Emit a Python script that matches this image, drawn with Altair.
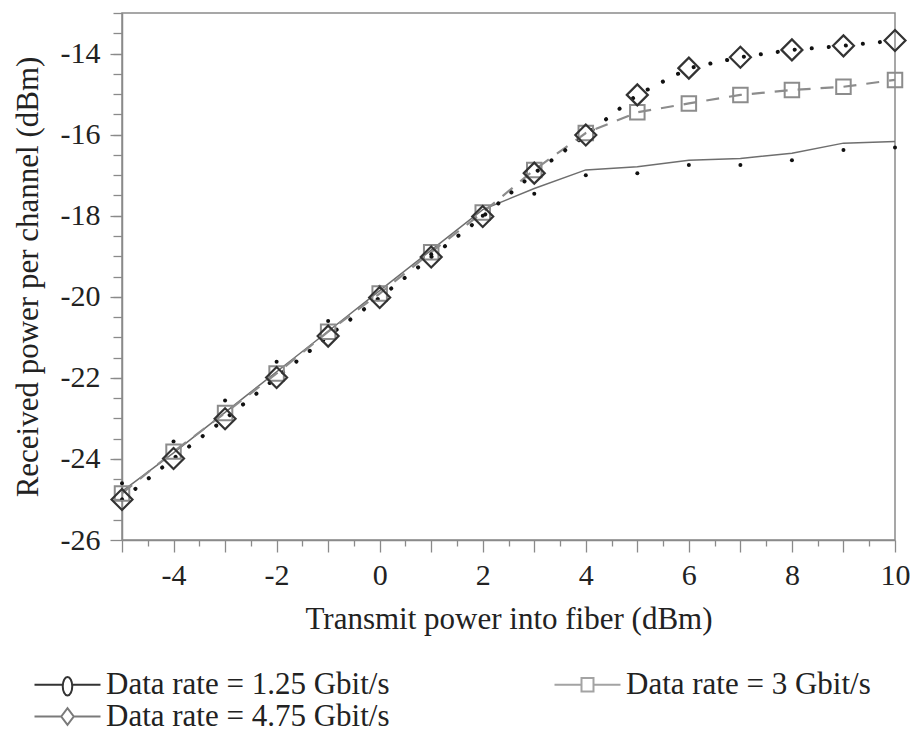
import altair as alt
import pandas as pd

# ---- data ----
x_vals = [-5, -4, -3, -2, -1, 0, 1, 2, 3, 4, 5, 6, 7, 8, 9, 10]
rate_475 = [-25.0, -23.99, -23.01, -21.99, -20.97, -20.02, -19.02, -18.02,
            -16.95, -16.01, -15.02, -14.36, -14.09, -13.91, -13.81, -13.68]
rate_3 = [-24.85, -23.82, -22.87, -21.89, -20.86, -19.92, -18.9, -17.92,
          -16.87, -15.96, -15.45, -15.23, -15.02, -14.9, -14.82, -14.65]
rate_125_line = [-24.8, -23.85, -22.85, -21.85, -20.85, -19.85, -18.85, -17.85,
                 -17.33, -16.87, -16.79, -16.63, -16.59, -16.46, -16.21, -16.17]
rate_125_dots = [-24.6, -23.57, -22.56, -21.6, -20.6, -19.75, -18.95, -18.0,
                 -17.46, -17.0, -16.95, -16.75, -16.75, -16.63, -16.38, -16.32]

series_names = ["Data rate = 1.25 Gbit/s", "Data rate = 3 Gbit/s", "Data rate = 4.75 Gbit/s"]
series_colors = ["#333333", "#a3a3a3", "#7a7a7a"]
legend_paths = [
    "M-2.64,0L-0.38,0M0.38,0L2.64,0M-0.38,0.12A0.38,0.74 0 1,0 0.38,0.12A0.38,0.74 0 1,0 -0.38,0.12",
    "M-2.64,0L-0.48,0M0.48,0L2.64,0M-0.48,-0.54L0.48,-0.54L0.48,0.54L-0.48,0.54Z",
    "M-2.64,0L-0.5,0M0.5,0L2.64,0M-0.5,0L0,-0.66L0.5,0L0,0.66Z",
]

x_major = list(range(-5, 11))
x_minor = [v + 0.5 for v in range(-5, 10)]
y_major = list(range(-26, -13, 2))
y_minor = [-26 + 0.5 * i for i in range(1, 27)]

df = pd.DataFrame({
    "x": x_vals,
    "r475": rate_475,
    "r3": rate_3,
    "r125": rate_125_line,
    "r125d": rate_125_dots,
})
leg_df = pd.DataFrame({"series": series_names})

FONT = "Liberation Serif"
xs = alt.Scale(domain=[-5, 10], nice=False, zero=False)
ys = alt.Scale(domain=[-26, -13], nice=False, zero=False)

x_axis_major = alt.Axis(values=x_major, tickSize=12,
                        labelExpr="datum.value % 2 == 0 ? '' + datum.value : ''",
                        title="Transmit power into fiber (dBm)", labelPadding=8,
                        titlePadding=14, orient="bottom", labelFlush=False,
                        labelOverlap=False)
x_axis_minor = alt.Axis(values=x_minor, tickSize=6, labels=False, domain=False,
                        title=None, orient="bottom")
y_axis_major = alt.Axis(values=y_major, tickSize=12,
                        labelExpr="'' + datum.value",
                        title="Received power per channel (dBm)", labelPadding=10,
                        titlePadding=16, orient="left", labelOverlap=False)
y_axis_minor = alt.Axis(values=y_minor, tickSize=9, labels=False, domain=False,
                        title=None, orient="left")

base = alt.Chart(df)

line125 = base.mark_line(color="#6e6e6e", strokeWidth=1.5).encode(
    x=alt.X("x:Q", scale=xs, axis=x_axis_major),
    y=alt.Y("r125:Q", scale=ys, axis=y_axis_major),
)
line3 = base.mark_line(color="#8c8c8c", strokeWidth=2.2, strokeDash=[13, 10]).encode(
    x=alt.X("x:Q", scale=xs, axis=x_axis_minor),
    y=alt.Y("r3:Q", scale=ys, axis=y_axis_minor),
)
line475 = base.mark_line(color="#111111", strokeWidth=4, strokeDash=[0.1, 17],
                         strokeCap="round").encode(
    x=alt.X("x:Q", scale=xs, axis=None),
    y=alt.Y("r475:Q", scale=ys, axis=None),
)
dots125 = base.mark_circle(color="#111111", size=16, opacity=1).encode(
    x=alt.X("x:Q", scale=xs, axis=None),
    y=alt.Y("r125d:Q", scale=ys, axis=None),
)
sq3 = base.mark_point(shape="square", size=210, color="#8c8c8c", strokeWidth=2,
                      filled=False, opacity=1).encode(
    x=alt.X("x:Q", scale=xs, axis=None),
    y=alt.Y("r3:Q", scale=ys, axis=None),
)
dia475 = base.mark_point(shape="diamond", size=440, color="#333333", strokeWidth=2.2,
                         filled=False, opacity=1).encode(
    x=alt.X("x:Q", scale=xs, axis=None),
    y=alt.Y("r475:Q", scale=ys, axis=None),
)

legend = alt.Legend(orient="none", legendX=-70, legendY=656, columns=2,
                    direction="horizontal", title=None,
                    labelFont=FONT, labelFontSize=31, labelColor="#222222",
                    symbolSize=625, symbolStrokeWidth=2, labelOffset=23,
                    columnPadding=160, rowPadding=0, labelLimit=0,
                    symbolOpacity=1)
leg = alt.Chart(leg_df).mark_point(filled=False, opacity=1).encode(
    color=alt.Color("series:N", scale=alt.Scale(domain=series_names, range=series_colors),
                    legend=legend),
    shape=alt.Shape("series:N", scale=alt.Scale(domain=series_names, range=legend_paths),
                    legend=legend),
).transform_filter("false")

chart = alt.layer(line125, line3, line475, dots125, sq3, dia475, leg).resolve_axis(
    x="independent", y="independent"
).properties(
    width=773, height=527,
    padding={"left": 122, "top": 13, "right": 18, "bottom": 191},
    autosize=alt.AutoSizeParams(type="none"),
    background="white",
).configure_view(
    stroke="#8a8a8a", strokeWidth=1.5
).configure_axis(
    domainColor="#8a8a8a", tickColor="#8a8a8a", domainWidth=1.5, tickWidth=1.3,
    labelFont=FONT, labelFontSize=30, labelColor="#222222",
    titleFont=FONT, titleFontSize=31, titleFontWeight="normal", titleColor="#222222",
    grid=False,
)

chart.save("out.html", embed_options={"renderer": "svg", "actions": False})
